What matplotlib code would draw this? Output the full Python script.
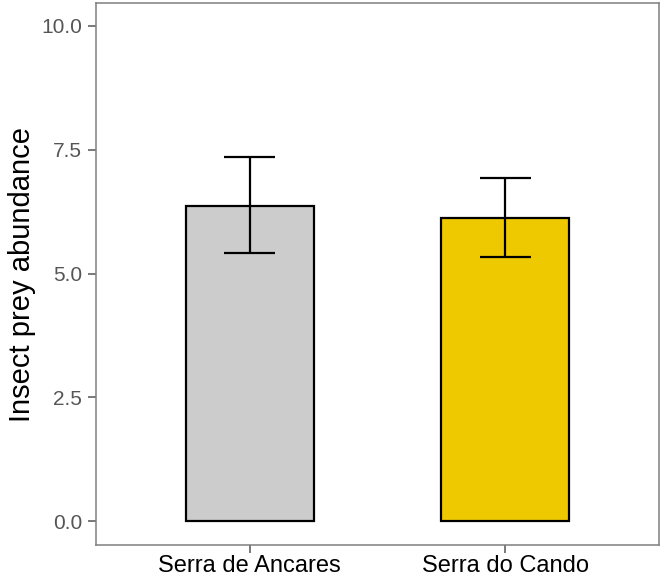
import numpy as np
import matplotlib.pyplot as plt

plt.rcParams['font.family'] = ['Liberation Sans', 'DejaVu Sans']

# data
sites = ['Serra de Ancares', 'Serra do Cando']
abundance = [6.37, 6.12]
err_low = [5.42, 5.33]
err_high = [7.35, 6.93]
bar_colors = ['#CCCCCC', '#EEC900']

fig = plt.figure(figsize=(6.62, 5.79), dpi=100)
ax = fig.add_axes([0.145, 0.0587, 0.8505, 0.936])

x = np.arange(1, len(sites) + 1)
ax.bar(x, abundance, width=0.5, color=bar_colors, edgecolor='black', linewidth=1.6, zorder=2)
lo = np.array(abundance) - np.array(err_low)
hi = np.array(err_high) - np.array(abundance)
ax.errorbar(x, abundance, yerr=[lo, hi], fmt='none', ecolor='black',
            elinewidth=1.6, capsize=0, zorder=3)
# caps drawn as short lines, width 0.2 in data units
for xi, l, h in zip(x, err_low, err_high):
    ax.hlines([l, h], xi - 0.1, xi + 0.1, color='black', linewidth=1.6, zorder=3)

ax.set_xlim(0.4, 2.6)
ax.set_ylim(-0.48, 10.46)
ax.set_xticks(x)
ax.set_xticklabels(sites, fontsize=17, color='black')
ax.set_yticks([0, 2.5, 5, 7.5, 10])
ax.set_yticklabels(['0.0', '2.5', '5.0', '7.5', '10.0'], fontsize=15, color='#555555')
ax.set_ylabel('Insect prey abundance', fontsize=21, color='black', labelpad=4)

for s in ax.spines.values():
    s.set_color('#7F7F7F')
    s.set_linewidth(1.1)
ax.tick_params(axis='both', length=6, width=1.1, color='#555555', pad=4)
ax.tick_params(axis='x', pad=1.5)

fig.savefig('out.png', dpi=100)
